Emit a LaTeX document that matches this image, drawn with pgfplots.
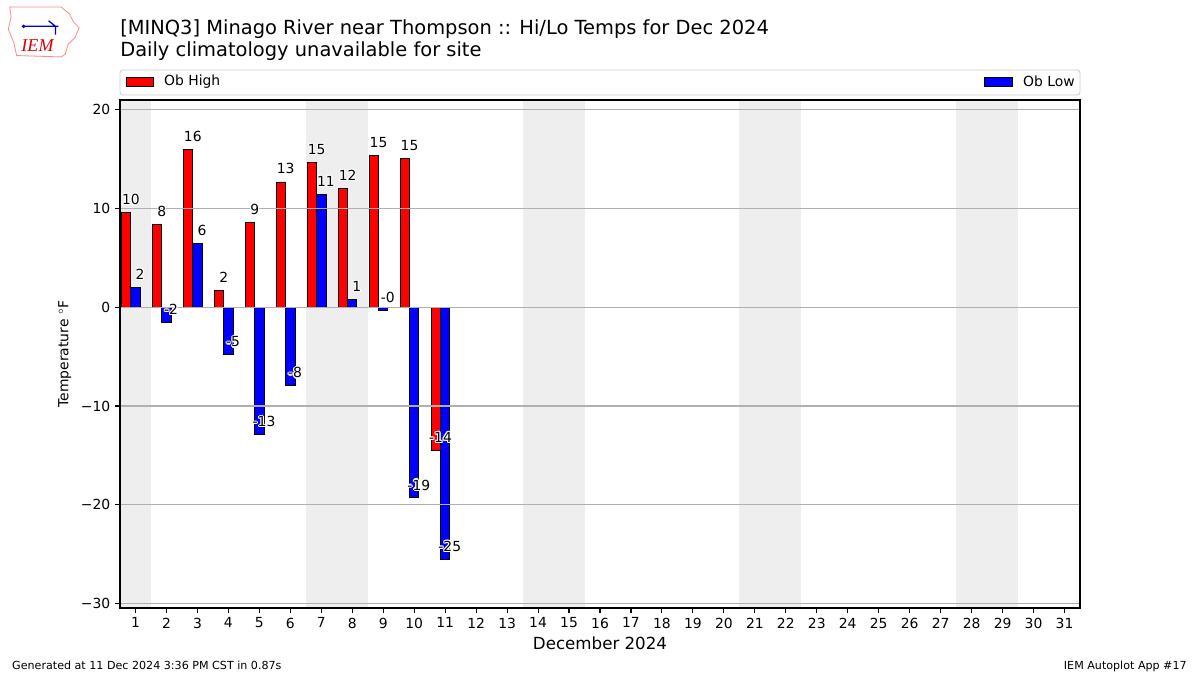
\documentclass[border=0pt]{standalone}
\usepackage{pgfplots}
\pgfplotsset{compat=1.18}
\usepackage{fontspec}
\setmainfont{DejaVu Sans}
\newfontfamily\logofont{Liberation Serif}

\definecolor{shade}{HTML}{EEEEEE}
\definecolor{gridgray}{HTML}{B0B0B0}
\definecolor{legedge}{HTML}{CCCCCC}

% white outline round a label, like the path effect in the original
\newcommand{\halo}[1]{\begingroup
  \def\h##1##2{\rlap{\kern##1\raise##2\hbox{\color{white}#1}}}%
  \h{0.8pt}{0pt}\h{-0.8pt}{0pt}\h{0pt}{0.8pt}\h{0pt}{-0.8pt}%
  \h{0.6pt}{0.6pt}\h{-0.6pt}{0.6pt}\h{0.6pt}{-0.6pt}\h{-0.6pt}{-0.6pt}%
  #1\endgroup}

\begin{document}
\begin{tikzpicture}
\useasboundingbox (0,0) rectangle (864pt,486pt);

% logo (rough)
\draw[red!45, line width=0.6pt] (7pt,481pt) -- (44pt,481pt) -- (50pt,476pt) -- (53pt,470pt) -- (57pt,466pt) -- (54pt,459pt) -- (49pt,454pt) -- (47pt,447pt) -- (44pt,445pt) -- (12pt,446pt) -- (10pt,455pt) -- (6pt,465pt) -- (8pt,474pt) -- cycle;
\draw[blue!80!black, line width=0.9pt] (16pt,467pt) -- (42pt,467pt) (35pt,471pt) -- (40pt,467pt) -- (40pt,461pt);
\fill[blue!80!black] (17pt,467pt) circle (1.4pt);
\node[font=\logofont\itshape\fontsize{13}{14}\selectfont, text=red!85!black] at (27pt,453.5pt) {IEM};

% titles
\node[anchor=base west, font=\fontsize{14}{16}\selectfont, inner sep=0pt] at (86.4pt,460.8pt) {[MINQ3] Minago River near Thompson :: Hi/Lo Temps for Dec 2024};
\node[anchor=base west, font=\fontsize{14}{16}\selectfont, inner sep=0pt] at (86.4pt,445pt) {Daily climatology unavailable for site};

% legend box
\draw[legedge, fill=white, rounded corners=2pt, line width=0.6pt] (86.4pt,417.6pt) rectangle (777.6pt,435.6pt);
\filldraw[fill=red, draw=black, line width=0.5pt] (90.7pt,424.1pt) rectangle (110.2pt,430.6pt);
\node[anchor=west, font=\fontsize{10}{12}\selectfont, inner sep=0pt] at (118pt,427.3pt) {Ob High};
\filldraw[fill=blue, draw=black, line width=0.5pt] (708.5pt,424.1pt) rectangle (728.6pt,430.6pt);
\node[anchor=west, font=\fontsize{10}{12}\selectfont, inner sep=0pt] at (736.5pt,427.3pt) {Ob Low};

% footers
\node[anchor=base west, font=\fontsize{8}{10}\selectfont, inner sep=0pt] at (8.6pt,4.3pt) {Generated at 11 Dec 2024 3:36 PM CST in 0.87s};
\node[anchor=base east, font=\fontsize{8}{10}\selectfont, inner sep=0pt] at (854.6pt,4.3pt) {IEM Autoplot App \#17};

\begin{axis}[
    at={(86.4pt,48.24pt)}, anchor=south west,
    scale only axis, width=691.2pt, height=365.76pt,
    xmin=0.5, xmax=31.5, ymin=-30.46, ymax=21.0,
    axis on top,
    axis line style={line width=0.8pt},
    xtick={1,...,31},
    ytick={-30,-20,-10,0,10,20},
    yticklabels={−30,−20,−10,0,10,20},
    /pgf/number format/assume math mode=true,
    tick align=outside, tick pos=left,
    major tick length=3.5pt,
    tick style={black, line width=0.8pt},
    ymajorgrids, major grid style={gridgray, line width=0.8pt},
    ticklabel style={font=\fontsize{10}{12}\selectfont},
    xlabel={December 2024},
    xlabel style={font=\fontsize{12}{14}\selectfont, yshift=1pt},
    ylabel={Temperature $^\circ$F},
    ylabel style={font=\fontsize{10}{12}\selectfont},
    clip=true,
]
% weekend shading
\addplot[fill=shade, draw=none] coordinates {(0.5,-31) (0.5,22) (1.5,22) (1.5,-31)} -- cycle;
\addplot[fill=shade, draw=none] coordinates {(6.5,-31) (6.5,22) (8.5,22) (8.5,-31)} -- cycle;
\addplot[fill=shade, draw=none] coordinates {(13.5,-31) (13.5,22) (15.5,22) (15.5,-31)} -- cycle;
\addplot[fill=shade, draw=none] coordinates {(20.5,-31) (20.5,22) (22.5,22) (22.5,-31)} -- cycle;
\addplot[fill=shade, draw=none] coordinates {(27.5,-31) (27.5,22) (29.5,22) (29.5,-31)} -- cycle;

% highs
\addplot[ybar, bar width=0.3, bar shift=-0.3, fill=red, draw=black, line width=0.6pt] coordinates {
 (1,9.6) (2,8.4) (3,16.0) (4,1.7) (5,8.6) (6,12.7) (7,14.7) (8,12.05) (9,15.4) (10,15.1) (11,-14.45)
};
% lows
\addplot[ybar, bar width=0.3, bar shift=0, fill=blue, draw=black, line width=0.6pt] coordinates {
 (1,2.0) (2,-1.55) (3,6.45) (4,-4.8) (5,-12.9) (6,-7.95) (7,11.45) (8,0.78) (9,-0.34) (10,-19.3) (11,-25.5)
};

% value labels, above positive bars
\addplot[draw=none, nodes near coords={\halo{\pgfplotspointmeta}}, point meta=explicit symbolic,
  nodes near coords style={anchor=base, yshift=5.8pt, inner sep=0pt, font=\fontsize{10}{12}\selectfont, text=black}]
 coordinates {
 (0.85,9.6)[10] (1.85,8.4)[8] (2.85,16.0)[16] (3.85,1.7)[2] (4.85,8.6)[9] (5.85,12.7)[13]
 (6.85,14.7)[15] (7.85,12.05)[12] (8.85,15.4)[15] (9.85,15.1)[15]
 (1.15,2.0)[2] (3.15,6.45)[6] (7.15,11.45)[11] (8.15,0.78)[1]
};
% value labels near end of negative bars
\addplot[draw=none, nodes near coords={\halo{\pgfplotspointmeta}}, point meta=explicit symbolic,
  nodes near coords style={anchor=base, yshift=5.6pt, inner sep=0pt, font=\fontsize{10}{12}\selectfont, text=black}]
 coordinates {
 (10.85,-14.45)[-14]
 (2.15,-1.55)[-2] (4.15,-4.8)[-5] (5.15,-12.9)[-13] (6.15,-7.95)[-8] (9.15,-0.34)[-0] (10.15,-19.3)[-19] (11.15,-25.5)[-25]
};
\end{axis}
\end{tikzpicture}
\end{document}
